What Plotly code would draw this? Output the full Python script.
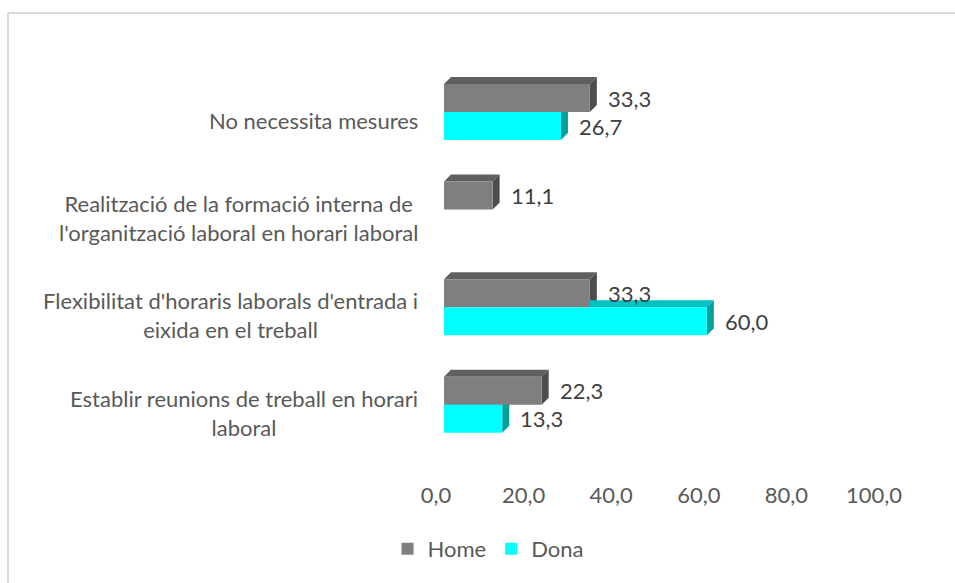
import plotly.graph_objects as go

# ---- data ----
categories = [
    "Establir reunions de treball en horari<br>laboral",
    "Flexibilitat d'horaris laborals d'entrada i<br>eixida en el treball",
    "Realització de la formació interna de<br>l'organització laboral en horari laboral",
    "No necessita mesures",
]
home = [22.3, 33.3, 11.1, 33.3]
dona = [13.3, 60.0, None, 26.7]
x_ticks = [0, 20, 40, 60, 80, 100]

# ---- layout constants (pixels) ----
W, H = 955, 583
L_PX, R_PX = 444, 882          # plot area left / right
T_PX, B_PX = 30, 480           # plot area top / bottom
Y_RANGE = [-0.77, 3.84]
X_RANGE = [0, 100]
px_per_x = (R_PX - L_PX) / (X_RANGE[1] - X_RANGE[0])
px_per_y = (B_PX - T_PX) / (Y_RANGE[1] - Y_RANGE[0])
DEPTH = 7                       # 3D depth in pixels
dx = DEPTH / px_per_x
dy = DEPTH / px_per_y
BW = 28 / px_per_y              # bar thickness

FONT = "Lato"
FS = 22
TXT = "#595959"
LBL = "#404040"

pos = list(range(len(categories)))

series = [
    ("Home", home, "#7f7f7f", "#5f5f5f", "#4d4d4d", 0.0),
    ("Dona", dona, "#00ffff", "#00c2c2", "#00a0a0", -BW),
]

fig = go.Figure()
shapes = []
annotations = []

for name, vals, front, top, side, off in series:
    fig.add_trace(go.Bar(
        name=name, y=pos, x=vals, orientation="h",
        width=BW, offset=off,
        marker=dict(color=front, line=dict(width=0)),
        hoverinfo="x+name",
    ))
    for p, v in zip(pos, vals):
        if v is None:
            continue
        y0 = p + off
        y1 = y0 + BW
        shapes.append(dict(
            type="path", xref="x", yref="y", layer="below",
            path=f"M 0,{y1} L {v},{y1} L {v+dx},{y1+dy} L {dx},{y1+dy} Z",
            fillcolor=top, line=dict(width=0),
        ))
        shapes.append(dict(
            type="path", xref="x", yref="y", layer="below",
            path=f"M {v},{y0} L {v+dx},{y0+dy} L {v+dx},{y1+dy} L {v},{y1} Z",
            fillcolor=side, line=dict(width=0),
        ))
        annotations.append(dict(
            x=v, y=(y0 + y1) / 2, xref="x", yref="y",
            text=f"{v:.1f}".replace(".", ","), showarrow=False,
            xanchor="left", yanchor="middle", xshift=16,
            font=dict(family=FONT, size=FS, color=LBL),
        ))

def px2paper_x(px):
    return (px - L_PX) / (R_PX - L_PX)

def px2paper_y(py):
    return (B_PX - py) / (B_PX - T_PX)

# category labels
for p, c in zip(pos, categories):
    annotations.append(dict(
        x=px2paper_x(420), y=p - 8 / px_per_y,
        xref="paper", yref="y", text=c, showarrow=False,
        xanchor="right", yanchor="middle", align="center",
        font=dict(family=FONT, size=FS, color=TXT),
    ))

# chart border (left and top edges)
shapes.append(dict(type="line", xref="paper", yref="paper",
                   x0=px2paper_x(8), x1=px2paper_x(8),
                   y0=px2paper_y(13), y1=px2paper_y(H + 10),
                   line=dict(color="#d9d9d9", width=2)))
shapes.append(dict(type="line", xref="paper", yref="paper",
                   x0=px2paper_x(8), x1=px2paper_x(W + 10),
                   y0=px2paper_y(13), y1=px2paper_y(13),
                   line=dict(color="#d9d9d9", width=2)))

fig.update_layout(
    width=W, height=H,
    margin=dict(l=L_PX, r=W - R_PX, t=T_PX, b=H - B_PX, autoexpand=False),
    paper_bgcolor="white", plot_bgcolor="white",
    separators=",.",
    barmode="overlay",
    showlegend=True,
    legend=dict(orientation="h", x=px2paper_x(488), y=px2paper_y(549),
                xanchor="center", yanchor="middle", traceorder="normal",
                font=dict(family=FONT, size=FS, color=TXT),
                itemwidth=30),
    font=dict(family=FONT, size=FS, color=TXT),
    shapes=shapes, annotations=annotations,
    xaxis=dict(range=X_RANGE, tickvals=x_ticks, tickformat=".1f",
               showgrid=False, zeroline=False, showline=False, ticks="",
               ticklabelshift=-8,
               tickfont=dict(family=FONT, size=FS, color=TXT)),
    yaxis=dict(range=Y_RANGE, showticklabels=False, showgrid=False,
               zeroline=False, showline=False, ticks=""),
)

fig.write_html("out.html", config={"displayModeBar": False},
               post_script="document.body.style.margin='0';")
